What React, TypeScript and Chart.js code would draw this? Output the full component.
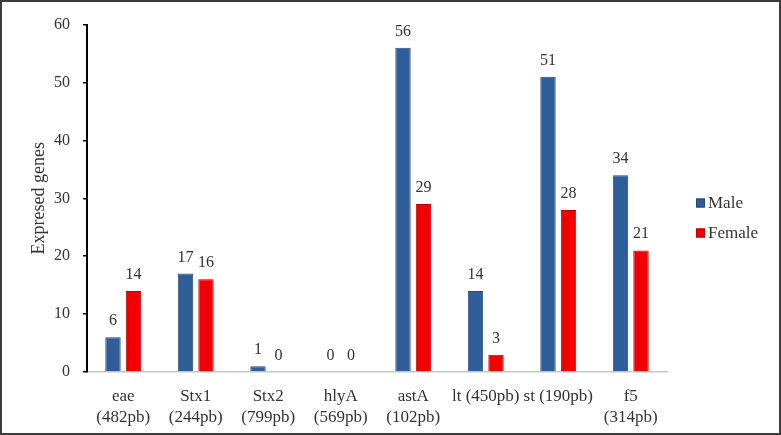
import React, { useEffect, useRef } from "react";
import { Chart, registerables } from "chart.js";

Chart.register(...registerables);

const categories: (string | string[])[] = [
  ["eae", "(482pb)"],
  ["Stx1", "(244pb)"],
  ["Stx2", "(799pb)"],
  ["hlyA", "(569pb)"],
  ["astA", "(102pb)"],
  "lt (450pb)",
  "st (190pb)",
  ["f5", "(314pb)"],
];
const maleValues = [6, 17, 1, 0, 56, 14, 51, 34];
const femaleValues = [14, 16, 0, 0, 29, 3, 28, 21];
const seriesNames = ["Male", "Female"];
const seriesColors = ["#2E5D99", "#F20000"];
const seriesBorders = ["#24497A", "#C00000"];
const yMin = 0;
const yMax = 60;
const yStep = 10;
const yTitle = "Expresed genes";

const FONT = "'Liberation Serif', 'Times New Roman', serif";
const TEXT = "#333333";

const valueLabels = {
  id: "valueLabels",
  afterDatasetsDraw(chart: any) {
    const ctx = chart.ctx;
    ctx.save();
    ctx.font = `16px ${FONT}`;
    ctx.fillStyle = TEXT;
    ctx.textAlign = "center";
    ctx.textBaseline = "alphabetic";
    chart.data.datasets.forEach((ds: any, i: number) => {
      const meta = chart.getDatasetMeta(i);
      meta.data.forEach((el: any, j: number) => {
        ctx.fillText(String(ds.data[j]), el.x, el.y - 12);
      });
    });
    ctx.restore();
  },
};

const customLegend = {
  id: "customLegend",
  afterDraw(chart: any) {
    const ctx = chart.ctx;
    const x = chart.chartArea.right + 29;
    const cy = chart.height / 2;
    ctx.save();
    ctx.font = `17px ${FONT}`;
    ctx.textBaseline = "middle";
    ctx.textAlign = "left";
    chart.data.datasets.forEach((ds: any, i: number) => {
      const y = cy - 14.5 + i * 30;
      ctx.fillStyle = ds.backgroundColor;
      ctx.fillRect(x, y - 4.5, 9, 9);
      ctx.strokeStyle = ds.borderColor;
      ctx.lineWidth = 1;
      ctx.strokeRect(x + 0.5, y - 4, 8, 8);
      ctx.fillStyle = TEXT;
      ctx.fillText(ds.label, x + 12, y + 1);
    });
    ctx.restore();
  },
};

export default function App() {
  const ref = useRef<HTMLCanvasElement | null>(null);
  useEffect(() => {
    document.body.style.margin = "0";
    if (!ref.current) return;
    const chart = new Chart(ref.current, {
      type: "bar",
      data: {
        labels: categories,
        datasets: [
          {
            label: seriesNames[0],
            data: maleValues,
            backgroundColor: seriesColors[0],
            borderColor: seriesBorders[0],
            borderWidth: 1,
          },
          {
            label: seriesNames[1],
            data: femaleValues,
            backgroundColor: seriesColors[1],
            borderColor: seriesBorders[1],
            borderWidth: 1,
          },
        ],
      },
      options: {
        animation: false,
        responsive: true,
        maintainAspectRatio: false,
        layout: { padding: { left: 0, top: 20, right: 112, bottom: 0 } },
        datasets: { bar: { categoryPercentage: 0.566, barPercentage: 0.75 } },
        plugins: {
          legend: { display: false },
          tooltip: { enabled: false },
        },
        scales: {
          x: {
            grid: { display: false },
            border: { display: true, color: "#C8C8C8", width: 1.5 },
            ticks: {
              color: TEXT,
              font: { family: FONT, size: 17, lineHeight: 1.18 },
              padding: 7,
              maxRotation: 0,
              autoSkip: false,
            },
            afterFit(s: any) {
              s.height = 61;
            },
          },
          y: {
            min: yMin,
            max: yMax,
            grid: {
              drawOnChartArea: false,
              drawTicks: true,
              tickLength: 4,
              color: "#000000",
              lineWidth: 1.5,
            },
            border: { display: true, color: "#000000", width: 2 },
            ticks: {
              stepSize: yStep,
              color: TEXT,
              font: { family: FONT, size: 16 },
              padding: 13,
            },
            title: {
              display: true,
              text: yTitle,
              color: TEXT,
              font: { family: FONT, size: 18 },
              padding: { top: 26, bottom: 0 },
            },
            afterFit(s: any) {
              s.width = 85;
            },
          },
        },
      },
      plugins: [valueLabels, customLegend],
    });
    return () => chart.destroy();
  }, []);
  return (
    <div
      style={{
        width: 781,
        height: 435,
        boxSizing: "border-box",
        border: "2px solid #3C3C3C",
        position: "relative",
        background: "#FFFFFF",
      }}
    >
      <canvas ref={ref} />
    </div>
  );
}
